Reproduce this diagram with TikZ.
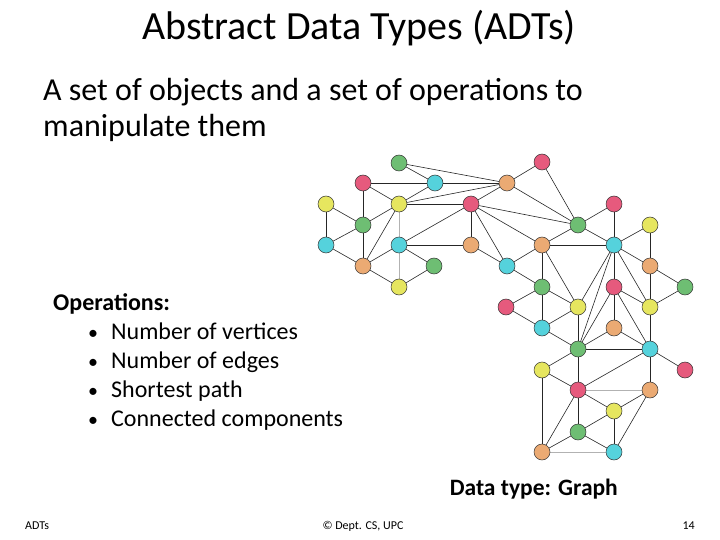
\documentclass[tikz,border=0pt]{standalone}
\usepackage{fontspec}
\setmainfont{Carlito}
\usetikzlibrary{backgrounds}
\begin{document}
\begin{tikzpicture}[x=1pt,y=-1pt,
  v/.style={circle,draw=black!80,line width=0.5pt,minimum size=16pt,inner sep=0pt},
  gr/.style={v,fill={rgb,255:red,110;green,190;blue,115}},
  rd/.style={v,fill={rgb,255:red,230;green,90;blue,125}},
  cy/.style={v,fill={rgb,255:red,85;green,210;blue,220}},
  og/.style={v,fill={rgb,255:red,235;green,170;blue,115}},
  ye/.style={v,fill={rgb,255:red,230;green,230;blue,95}},
  ed/.style={line width=0.6pt,black!85},
  eg/.style={line width=1pt,black!30},
  txt/.style={inner sep=0pt,anchor=base west}]
\useasboundingbox (0,0) rectangle (720,540);
\node[txt,anchor=base] (title) at (359,40) {\fontsize{40}{44}\selectfont Abstract Data Types (ADTs)};
\node[txt] (s1) at (43,101) {\fontsize{32}{36}\selectfont A set of objects and a set of operations to};
\node[txt] (s2) at (43,137) {\fontsize{32}{36}\selectfont manipulate them};
\node[txt] (op) at (53,310) {\fontsize{24}{28}\selectfont\bfseries Operations:};
\foreach \t [count=\i] in {Number of vertices,Number of edges,Shortest path,Connected components}{
  \node[txt] (b\i) at (88,339+29*\i-29) {\fontsize{20}{24}\selectfont\textbullet};
  \node[txt] (t\i) at (111,339+29*\i-29) {\fontsize{24}{28}\selectfont \t};}
\node[txt,anchor=base east] (dt) at (618,495) {\fontsize{23.5}{28}\selectfont\bfseries Data type: Graph};
\node[txt] (f1) at (25,529) {\fontsize{12}{14}\selectfont ADTs};
\node[txt,anchor=base] (f2) at (363,529) {\fontsize{12}{14}\selectfont © Dept. CS, UPC};
\node[txt,anchor=base east] (f3) at (695,529) {\fontsize{12}{14}\selectfont 14};
% vertices
\node[gr] (A) at (399,163) {}; \node[rd] (B) at (363,183) {}; \node[cy] (C) at (435,183) {};
\node[og] (D) at (507,183) {}; \node[rd] (E) at (542,162) {}; \node[ye] (F) at (326,204) {};
\node[ye] (G) at (399,204) {}; \node[rd] (H) at (471,204) {}; \node[gr] (I) at (363,225) {};
\node[cy] (J) at (326,245) {}; \node[cy] (K) at (399,245) {}; \node[og] (L) at (471,245) {};
\node[og] (M) at (542,245) {}; \node[og] (N) at (363,266) {}; \node[gr] (O) at (434,266) {};
\node[cy] (P) at (507,266) {}; \node[ye] (Q) at (399,287) {}; \node[gr] (R) at (542,287) {};
\node[rd] (S) at (506,307) {}; \node[gr] (T) at (578,225) {}; \node[rd] (U) at (614,204) {};
\node[ye] (V) at (650,225) {}; \node[cy] (W) at (614,245) {}; \node[og] (X) at (650,266) {};
\node[rd] (Y) at (614,287) {}; \node[gr] (Z) at (685,287) {}; \node[ye] (a) at (578,307) {};
\node[ye] (b) at (650,307) {}; \node[cy] (c) at (542,328) {}; \node[og] (d) at (614,328) {};
\node[gr] (e) at (578,349) {}; \node[cy] (f) at (650,349) {}; \node[ye] (g) at (542,370) {};
\node[rd] (h) at (685,370) {}; \node[rd] (i) at (578,390) {}; \node[og] (j) at (650,390) {};
\node[ye] (k) at (614,411) {}; \node[gr] (l) at (578,432) {}; \node[og] (m) at (542,452) {};
\node[cy] (n) at (614,452) {};
\begin{scope}[on background layer]
\foreach \p/\q in {A/C,A/D,B/C,B/G,B/I,C/D,C/G,D/G,D/H,D/E,D/T,E/T,F/I,F/J,G/H,G/I,G/N,
  H/T,H/M,H/L,H/P,H/K,I/J,I/N,J/N,K/L,K/N,K/O,N/Q,O/Q,L/P,P/M,P/R,M/R,M/T,M/W,M/a,
  R/S,R/c,R/a,T/W,T/U,U/W,W/V,W/X,W/b,W/Y,W/a,W/e,Y/e,V/X,X/b,X/Z,Z/b,Y/d,Y/b,Y/f,
  S/c,a/c,a/e,c/e,d/e,d/f,e/f,b/f,e/g,e/i,f/i,f/h,f/j,g/i,g/m,i/k,i/l,i/m,j/k,j/n,
  k/n,k/l,l/m,l/n}
  \draw[ed] (\p) -- (\q);
\foreach \p/\q in {G/K,K/Q,i/j,m/n}
  \draw[eg] (\p) -- (\q);
\end{scope}
\end{tikzpicture}
\end{document}
